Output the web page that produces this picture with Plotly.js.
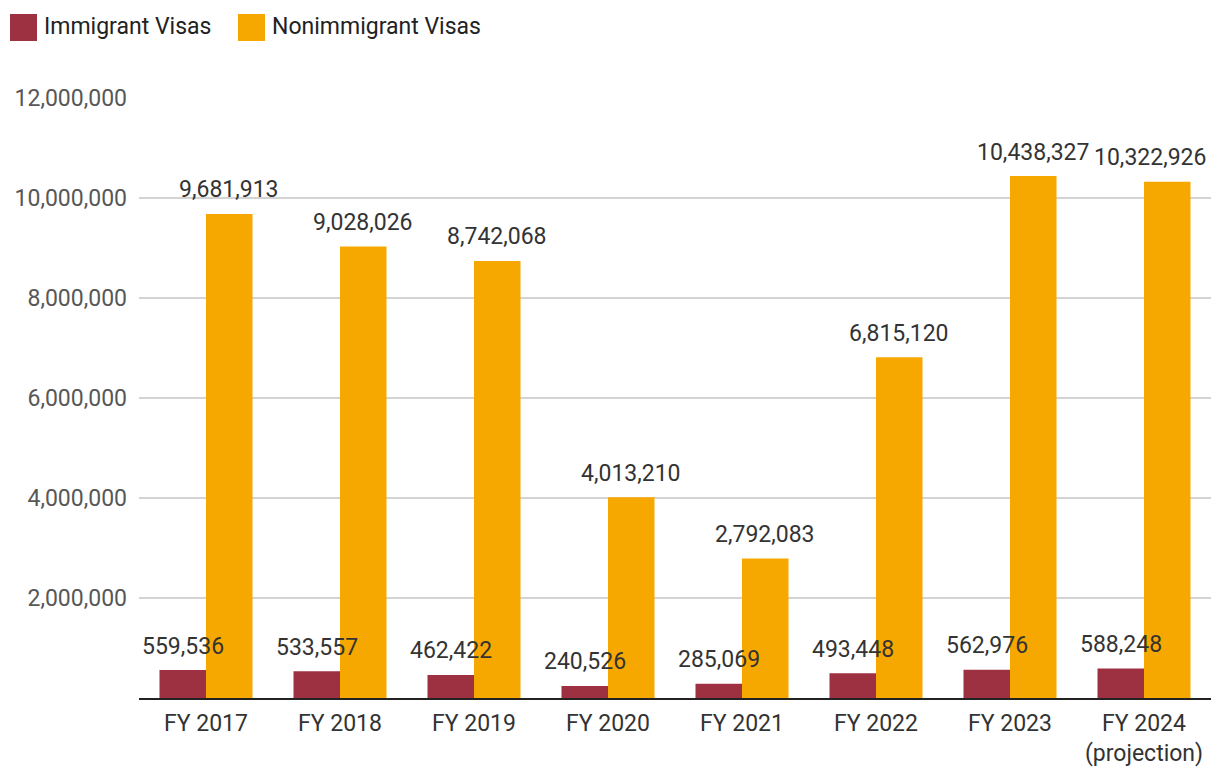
<!DOCTYPE html>
<html>
<head>
<meta charset="utf-8">
<script src="https://cdn.plot.ly/plotly-3.0.1.min.js"></script>
<style>html,body{margin:0;padding:0;background:#fff;}#chart{width:1220px;height:782px;}</style>
</head>
<body>
<div id="chart"></div>
<script>
const categories = ["FY 2017","FY 2018","FY 2019","FY 2020","FY 2021","FY 2022","FY 2023","FY 2024<br>(projection)"];
const immigrantName = "Immigrant Visas";
const nonimmigrantName = "Nonimmigrant Visas";
const immigrantValues = [559536, 533557, 462422, 240526, 285069, 493448, 562976, 588248];
const nonimmigrantValues = [9681913, 9028026, 8742068, 4013210, 2792083, 6815120, 10438327, 10322926];
const yTickVals = [2000000, 4000000, 6000000, 8000000, 10000000, 12000000];

const C_IMM = "#9E3141";
const C_NON = "#F7A800";
const FONT = "Roboto, 'Noto Sans', sans-serif";

const W = 1220, H = 782;
const M = {l: 139, r: 9, t: 98, b: 84};
const plotW = W - M.l - M.r, plotH = H - M.t - M.b;
const px2x = p => (p - M.l) / plotW;
const py2y = p => (H - M.b - p) / plotH;

const fmt = v => v.toLocaleString('en-US');

const traces = [
  {type: 'bar', name: immigrantName, x: categories, y: immigrantValues, marker: {color: C_IMM}, hoverinfo: 'x+y'},
  {type: 'bar', name: nonimmigrantName, x: categories, y: nonimmigrantValues, marker: {color: C_NON}, hoverinfo: 'x+y'}
];

const annotations = [];
const shift = 23.25;
categories.forEach((c, i) => {
  const last = i === categories.length - 1;
  annotations.push({x: c, y: immigrantValues[i], xref: 'x', yref: 'y', text: fmt(immigrantValues[i]),
    showarrow: false, xshift: -shift, yshift: 24, yanchor: 'middle',
    font: {family: FONT, size: 23, color: '#333333'}});
  annotations.push({x: c, y: nonimmigrantValues[i], xref: 'x', yref: 'y', text: fmt(nonimmigrantValues[i]),
    showarrow: false, xshift: last ? shift - 17 : shift, yshift: 24, yanchor: 'middle',
    font: {family: FONT, size: 23, color: '#333333'}});
});

// custom legend
const legendItems = [
  {name: immigrantName, color: C_IMM, sx: 10},
  {name: nonimmigrantName, color: C_NON, sx: 238}
];
const shapes = [];
legendItems.forEach(it => {
  shapes.push({type: 'rect', xref: 'paper', yref: 'paper',
    x0: px2x(it.sx), x1: px2x(it.sx + 27), y0: py2y(41), y1: py2y(14),
    fillcolor: it.color, line: {width: 0}});
  annotations.push({xref: 'paper', yref: 'paper', x: px2x(it.sx + 32), y: py2y(27),
    xanchor: 'left', yanchor: 'middle', showarrow: false, text: it.name,
    font: {family: FONT, size: 23, color: '#222222'}});
});

const layout = {
  width: W, height: H,
  margin: M,
  paper_bgcolor: '#ffffff', plot_bgcolor: '#ffffff',
  font: {family: FONT, size: 23, color: '#333333'},
  barmode: 'group', bargap: 0.306, bargroupgap: 0,
  showlegend: false,
  xaxis: {type: 'category', showgrid: false, showline: true, linecolor: '#222222', linewidth: 2,
    ticks: '', ticklabelstandoff: 3, tickfont: {family: FONT, size: 23, color: '#333333'},
    range: [-0.5, 7.5], fixedrange: true},
  yaxis: {range: [0, 12000000], tickvals: yTickVals, ticktext: yTickVals.map(fmt),
    showgrid: true, gridcolor: '#d3d3d3', gridwidth: 1.5, zeroline: false, showline: false,
    ticks: '', ticklabelstandoff: 11, tickfont: {family: FONT, size: 23, color: '#575757'}, fixedrange: true},
  annotations: annotations,
  shapes: shapes
};

Plotly.newPlot('chart', traces, layout, {displayModeBar: false, staticPlot: true});
</script>
</body>
</html>
